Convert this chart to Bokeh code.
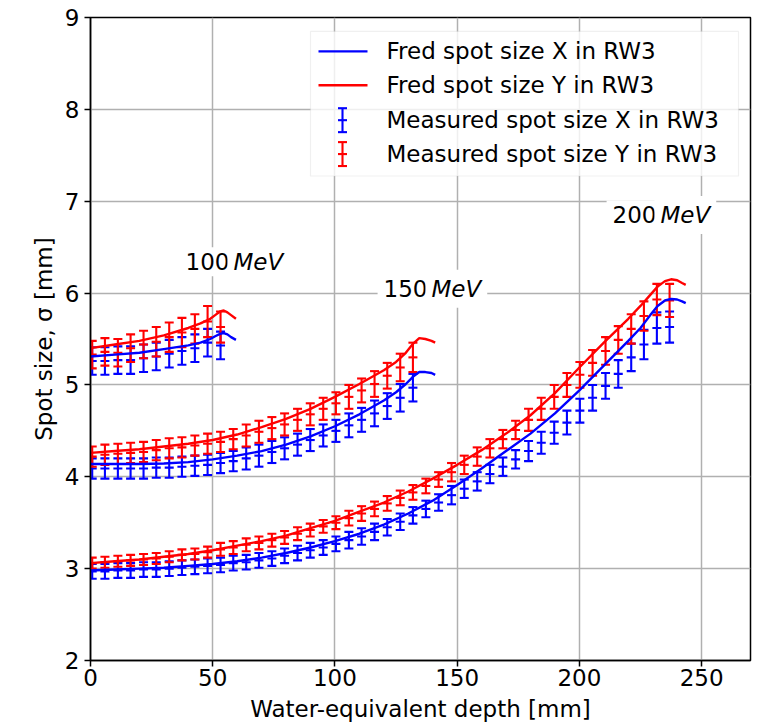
import numpy as np
from bokeh.plotting import figure
from bokeh.models import Label, BoxAnnotation, Range1d, FixedTicker
from bokeh.embed import file_html
from bokeh.resources import INLINE

# ---------------- data ----------------
# measurement depths (water-equivalent, mm)
meas_depth = [0.7, 5.9, 11.2, 16.4, 21.7, 26.9, 32.2, 37.4, 42.7, 47.9,
              53.2, 58.4, 63.7, 68.9, 74.2, 79.4, 84.7, 89.9, 95.2, 100.4,
              105.7, 110.9, 116.2, 121.4, 126.7, 131.9, 137.2, 142.4, 147.7, 152.9,
              158.2, 163.4, 168.7, 173.9, 179.2, 184.4, 189.7, 194.9, 200.2, 205.4,
              210.7, 215.9, 221.2, 226.4, 231.7, 236.9]

# 200 MeV measured
meas200_y = [3.06, 3.07, 3.08, 3.09, 3.10, 3.11, 3.13, 3.15, 3.16, 3.18,
             3.21, 3.23, 3.26, 3.28, 3.31, 3.34, 3.38, 3.42, 3.46, 3.50,
             3.55, 3.60, 3.65, 3.71, 3.77, 3.83, 3.90, 3.97, 4.05, 4.13,
             4.22, 4.31, 4.41, 4.51, 4.62, 4.74, 4.87, 5.00, 5.11, 5.24,
             5.37, 5.49, 5.61, 5.75, 5.93, 5.92]
err200_y = [0.06, 0.06, 0.06, 0.06, 0.06, 0.06, 0.06, 0.06, 0.06, 0.06,
            0.07, 0.07, 0.07, 0.07, 0.07, 0.07, 0.07, 0.07, 0.07, 0.07,
            0.08, 0.08, 0.08, 0.08, 0.08, 0.08, 0.08, 0.08, 0.10, 0.10,
            0.10, 0.10, 0.10, 0.10, 0.12, 0.12, 0.13, 0.13, 0.14, 0.14,
            0.15, 0.15, 0.16, 0.16, 0.17, 0.18]
meas200_x = [2.97, 2.97, 2.98, 2.98, 2.99, 2.99, 3.00, 3.01, 3.02, 3.03,
             3.04, 3.06, 3.07, 3.09, 3.11, 3.14, 3.17, 3.20, 3.23, 3.27,
             3.31, 3.35, 3.40, 3.45, 3.51, 3.58, 3.65, 3.72, 3.80, 3.87,
             3.95, 4.03, 4.11, 4.19, 4.28, 4.37, 4.48, 4.59, 4.72, 4.86,
             4.99, 5.12, 5.30, 5.44, 5.62, 5.63]
err200_x = [0.08, 0.08, 0.08, 0.08, 0.08, 0.08, 0.08, 0.08, 0.08, 0.08,
            0.08, 0.08, 0.08, 0.08, 0.08, 0.08, 0.08, 0.08, 0.08, 0.08,
            0.09, 0.09, 0.09, 0.09, 0.09, 0.09, 0.09, 0.09, 0.10, 0.10,
            0.10, 0.10, 0.10, 0.10, 0.11, 0.12, 0.12, 0.13, 0.13, 0.14,
            0.14, 0.15, 0.15, 0.16, 0.17, 0.17]

# 150 MeV measured (first 26 depths)
meas150_y = [4.22, 4.24, 4.25, 4.26, 4.27, 4.29, 4.31, 4.32, 4.34, 4.36,
             4.38, 4.41, 4.45, 4.49, 4.53, 4.57, 4.62, 4.68, 4.74, 4.80,
             4.87, 4.94, 5.01, 5.10, 5.19, 5.30]
err150_y = [0.11, 0.11, 0.11, 0.11, 0.11, 0.11, 0.11, 0.11, 0.11, 0.11,
            0.11, 0.11, 0.12, 0.12, 0.12, 0.12, 0.12, 0.12, 0.12, 0.12,
            0.13, 0.13, 0.14, 0.14, 0.15, 0.16]
meas150_x = [4.09, 4.09, 4.09, 4.09, 4.09, 4.10, 4.10, 4.11, 4.12, 4.13,
             4.15, 4.17, 4.20, 4.23, 4.27, 4.31, 4.35, 4.40, 4.45, 4.50,
             4.56, 4.62, 4.69, 4.77, 4.86, 4.97]
err150_x = [0.11, 0.11, 0.11, 0.11, 0.11, 0.11, 0.11, 0.11, 0.11, 0.11,
            0.11, 0.11, 0.12, 0.12, 0.12, 0.12, 0.12, 0.12, 0.12, 0.12,
            0.13, 0.13, 0.14, 0.14, 0.15, 0.15]

# 100 MeV measured (first 11 depths)
meas100_y = [5.33, 5.36, 5.35, 5.40, 5.44, 5.47, 5.52, 5.57, 5.61, 5.69, 5.63]
err100_y = [0.15, 0.15, 0.15, 0.15, 0.15, 0.16, 0.16, 0.16, 0.16, 0.17, 0.17]
meas100_x = [5.26, 5.26, 5.27, 5.27, 5.29, 5.31, 5.34, 5.37, 5.40, 5.46, 5.43]
err100_x = [0.15, 0.15, 0.15, 0.15, 0.15, 0.15, 0.15, 0.15, 0.15, 0.15, 0.15]

# Fred simulated curves
fred200_depth = [0, 10, 20, 30, 40, 50, 60, 70, 80, 90, 100, 110, 120, 130, 140, 150,
                 160, 170, 180, 190, 200, 210, 220, 225, 229, 232, 235, 237.5, 240, 242, 243.5]
fred200_y = [3.06, 3.08, 3.10, 3.13, 3.16, 3.20, 3.25, 3.30, 3.36, 3.44, 3.52, 3.62, 3.72,
             3.84, 3.98, 4.13, 4.29, 4.47, 4.67, 4.91, 5.19, 5.46, 5.72, 5.86, 5.98, 6.07,
             6.13, 6.15, 6.14, 6.11, 6.09]
fred200_x = [2.98, 2.99, 3.00, 3.01, 3.03, 3.05, 3.08, 3.12, 3.17, 3.23, 3.30, 3.38, 3.48,
             3.60, 3.74, 3.91, 4.09, 4.28, 4.47, 4.69, 4.94, 5.21, 5.48, 5.62, 5.76, 5.86,
             5.92, 5.935, 5.93, 5.91, 5.89]

fred150_depth = [0, 10, 20, 30, 40, 50, 60, 70, 80, 90, 100, 110, 120, 125, 129, 132,
                 134.5, 137, 139.5, 141]
fred150_y = [4.26, 4.28, 4.30, 4.33, 4.36, 4.40, 4.46, 4.54, 4.63, 4.74, 4.87, 5.01, 5.16,
             5.25, 5.35, 5.45, 5.51, 5.50, 5.48, 5.46]
fred150_x = [4.14, 4.14, 4.14, 4.145, 4.16, 4.19, 4.23, 4.28, 4.35, 4.44, 4.55, 4.68, 4.83,
             4.92, 5.01, 5.09, 5.14, 5.14, 5.13, 5.11]

fred100_depth = [0, 10, 20, 30, 40, 45, 49, 51, 53, 54.5, 56, 57.5, 59.5]
fred100_y = [5.40, 5.44, 5.48, 5.54, 5.62, 5.67, 5.72, 5.76, 5.80, 5.81, 5.79, 5.76, 5.72]
fred100_x = [5.31, 5.33, 5.35, 5.39, 5.43, 5.46, 5.50, 5.53, 5.555, 5.565, 5.55, 5.52, 5.49]

x_ticks = [0, 50, 100, 150, 200, 250]
y_ticks = [2, 3, 4, 5, 6, 7, 8, 9]

BLUE = "#0000ff"
RED = "#ff0000"
FONT = "DejaVu Sans"
FS = "23px"
EW = 2.1   # error bar line width
CAP = 9    # cap marker size

# ---------------- figure ----------------
p = figure(width=760, height=724, x_range=Range1d(0, 270), y_range=Range1d(2, 9),
           output_backend="svg", toolbar_location=None,
           min_border_left=90, min_border_right=10, min_border_top=17, min_border_bottom=62)
p.background_fill_color = "white"
p.border_fill_color = "white"
p.outline_line_color = "black"
p.outline_line_width = 1.5

p.xaxis.ticker = FixedTicker(ticks=x_ticks)
p.yaxis.ticker = FixedTicker(ticks=y_ticks)
p.xgrid.ticker = FixedTicker(ticks=x_ticks)
p.ygrid.ticker = FixedTicker(ticks=y_ticks)
p.grid.grid_line_color = "#b0b0b0"
p.grid.grid_line_width = 1.5

for ax in (p.xaxis[0], p.yaxis[0]):
    ax.axis_line_color = "black"
    ax.axis_line_width = 1.5
    ax.major_tick_line_color = "black"
    ax.major_tick_line_width = 1.5
    ax.major_tick_out = 6
    ax.major_tick_in = 0
    ax.minor_tick_line_color = None
    ax.major_label_text_font = FONT
    ax.major_label_text_font_size = FS
    ax.major_label_text_color = "black"
    ax.axis_label_text_font = FONT
    ax.axis_label_text_font_size = FS
    ax.axis_label_text_font_style = "normal"
    ax.axis_label_text_color = "black"

p.xaxis.axis_label = "Water-equivalent depth [mm]"
p.yaxis.axis_label = "Spot size, σ [mm]"
p.xaxis.major_label_standoff = 2
p.xaxis.axis_label_standoff = 7
p.yaxis.major_label_standoff = 5
p.yaxis.axis_label_standoff = 5


def errorbars(xs, ys, es, color):
    xs = np.asarray(xs, dtype=float)
    ys = np.asarray(ys, dtype=float)
    es = np.asarray(es, dtype=float)
    p.segment(x0=xs, y0=ys - es, x1=xs, y1=ys + es, line_color=color, line_width=EW)
    p.scatter(x=xs, y=ys - es, marker="dash", size=CAP, line_color=color, line_width=EW)
    p.scatter(x=xs, y=ys + es, marker="dash", size=CAP, line_color=color, line_width=EW)
    p.scatter(x=xs, y=ys, marker="dash", size=CAP, line_color=color, line_width=EW)


# measured error bars
errorbars(meas_depth[:11], meas100_x, err100_x, BLUE)
errorbars(meas_depth[:11], meas100_y, err100_y, RED)
errorbars(meas_depth[:26], meas150_x, err150_x, BLUE)
errorbars(meas_depth[:26], meas150_y, err150_y, RED)
errorbars(meas_depth, meas200_x, err200_x, BLUE)
errorbars(meas_depth, meas200_y, err200_y, RED)

# Fred curves
for d, yx, yy in ((fred100_depth, fred100_x, fred100_y),
                  (fred150_depth, fred150_x, fred150_y),
                  (fred200_depth, fred200_x, fred200_y)):
    p.line(d, yx, line_color=BLUE, line_width=2.4)
    p.line(d, yy, line_color=RED, line_width=2.4)

# ---------------- energy labels ----------------
def dx(px):
    return (px - 90) / 660 * 270


def dy(py):
    return 9 - (py - 17) / 645 * 7


PAD = 6


def energy_label(num, px_split, py):
    p.add_layout(Label(x=dx(px_split), y=dy(py), text=num, x_offset=PAD - 2,
                       text_align="right", text_baseline="middle",
                       text_font=FONT, text_font_size=FS, text_color="black",
                       background_fill_color="white", padding=PAD))
    p.add_layout(Label(x=dx(px_split), y=dy(py), text="MeV", x_offset=2 - PAD,
                       text_align="left", text_baseline="middle",
                       text_font=FONT, text_font_size=FS, text_font_style="italic",
                       text_color="black",
                       background_fill_color="white", padding=PAD))


energy_label("100", 231, 262)
energy_label("150", 429, 289)
energy_label("200", 658, 215)

# ---------------- legend (drawn by hand) ----------------
p.add_layout(BoxAnnotation(left=dx(310), right=dx(738), top=dy(31), bottom=dy(176),
                           fill_color="white", fill_alpha=0.8,
                           line_color="#cccccc", line_width=1.2))

legend_rows = [51, 85, 120, 154]
legend_labels = ["Fred spot size X in RW3", "Fred spot size Y in RW3",
                 "Measured spot size X in RW3", "Measured spot size Y in RW3"]
legend_colors = [BLUE, RED, BLUE, RED]

for i, (row, lab, col) in enumerate(zip(legend_rows, legend_labels, legend_colors)):
    if i < 2:
        r = p.segment(x0=[dx(318)], y0=[dy(row)], x1=[dx(367)], y1=[dy(row)],
                      line_color=col, line_width=2.4)
        r.level = "overlay"
    else:
        cx = dx(342)
        r1 = p.segment(x0=[cx], y0=[dy(row + 12)], x1=[cx], y1=[dy(row - 12)],
                       line_color=col, line_width=EW)
        r2 = p.scatter(x=[cx, cx, cx], y=[dy(row + 12), dy(row), dy(row - 12)],
                       marker="dash", size=CAP, line_color=col, line_width=EW)
        r1.level = "overlay"
        r2.level = "overlay"
    lbl = Label(x=dx(386), y=dy(row), text=lab, text_align="left", text_baseline="middle",
                text_font=FONT, text_font_size=FS, text_color="black")
    lbl.level = "overlay"
    p.add_layout(lbl)

open("out.html", "w").write(file_html(p, INLINE))
